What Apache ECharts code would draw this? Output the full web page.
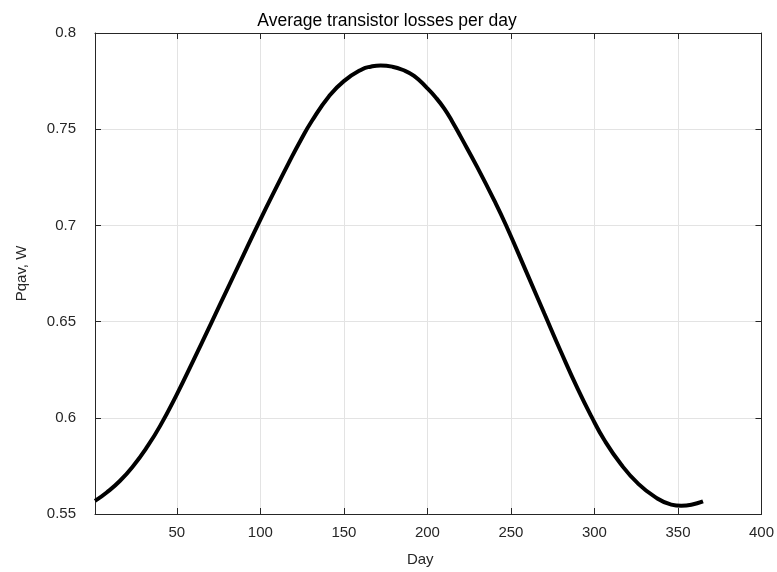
<!DOCTYPE html>
<html>
<head>
<meta charset="utf-8">
<script src="https://cdn.jsdelivr.net/npm/echarts@6/dist/echarts.min.js"></script>
<style>
html,body{margin:0;padding:0;background:#fff;}
#main{width:777px;height:572px;}
</style>
</head>
<body>
<div id="main"></div>
<script>
// values
var days = [1, 8, 16, 24, 32, 40, 50, 60, 71, 80, 90, 100, 110, 117, 124, 131, 141, 150, 161, 166, 172,
            179, 185, 192, 200, 205, 210, 215, 220, 230, 240, 247, 260, 270, 280, 290, 298, 306,
            316, 326, 336, 346, 352, 358, 365];
var losses = [0.5568, 0.5612, 0.5673, 0.5751, 0.5846, 0.5958, 0.6122, 0.6300, 0.6500, 0.6665,
              0.6848, 0.7030, 0.7205, 0.7325, 0.7440, 0.7545, 0.7670, 0.7750, 0.7812, 0.7825, 0.7831,
              0.7825, 0.7809, 0.7777, 0.7712, 0.7665, 0.7608, 0.7538, 0.7460, 0.7300, 0.7130,
              0.7002, 0.6743, 0.6542, 0.6342, 0.6150, 0.6010, 0.5883, 0.5757, 0.5659, 0.5590,
              0.5549, 0.5543, 0.5548, 0.5565];
var xTicks = [50, 100, 150, 200, 250, 300, 350, 400];

var pts = [];
for (var i = 0; i < days.length; i++) {
    pts.push([days[i], losses[i]]);
}

var axisColor = '#262626';
var gridColor = '#e3e3e3';
var font = 'Liberation Sans, Arial, Helvetica, sans-serif';

var chart = echarts.init(document.getElementById('main'));
var option = {
    backgroundColor: '#fff',
    animation: false,
    title: {
        text: 'Average transistor losses per day',
        left: 382,
        top: 7,
        textAlign: 'center',
        textStyle: {fontFamily: font, fontSize: 17.5, fontWeight: 'normal', color: '#000'}
    },
    grid: {left: 95, right: 13, top: 33, bottom: 55},
    xAxis: [{
        type: 'value',
        min: 1,
        max: 400,
        name: 'Day',
        nameLocation: 'middle',
        nameGap: 38,
        nameTextStyle: {fontFamily: font, fontSize: 15, color: axisColor, padding: [0, 16, 0, 0]},
        axisLine: {lineStyle: {color: axisColor, width: 1}},
        axisTick: {inside: true, length: 6, customValues: xTicks, lineStyle: {color: axisColor}},
        axisLabel: {customValues: xTicks, margin: 11, fontFamily: font, fontSize: 15, color: axisColor},
        splitLine: {show: true, lineStyle: {color: gridColor, width: 1}}
    }, {
        type: 'value',
        position: 'top',
        min: 1,
        max: 400,
        axisLine: {show: true, lineStyle: {color: axisColor, width: 1}},
        axisTick: {inside: true, length: 6, customValues: xTicks, lineStyle: {color: axisColor}},
        axisLabel: {show: false},
        splitLine: {show: false}
    }],
    yAxis: [{
        type: 'value',
        min: 0.55,
        max: 0.8,
        interval: 0.05,
        name: 'Pqav, W',
        nameLocation: 'middle',
        nameGap: 66,
        nameTextStyle: {fontFamily: font, fontSize: 15, color: axisColor},
        axisLine: {show: true, lineStyle: {color: axisColor, width: 1}},
        axisTick: {inside: true, length: 6, lineStyle: {color: axisColor}},
        axisLabel: {margin: 19, fontFamily: font, fontSize: 15, color: axisColor},
        splitLine: {show: true, lineStyle: {color: gridColor, width: 1}}
    }, {
        type: 'value',
        position: 'right',
        min: 0.55,
        max: 0.8,
        interval: 0.05,
        axisLine: {show: true, lineStyle: {color: axisColor, width: 1}},
        axisTick: {inside: true, length: 6, lineStyle: {color: axisColor}},
        axisLabel: {show: false},
        splitLine: {show: false}
    }],
    series: [{
        type: 'line',
        data: pts,
        smooth: 0.5,
        showSymbol: false,
        lineStyle: {color: '#000', width: 4}
    }]
};
chart.setOption(option);
</script>
</body>
</html>
